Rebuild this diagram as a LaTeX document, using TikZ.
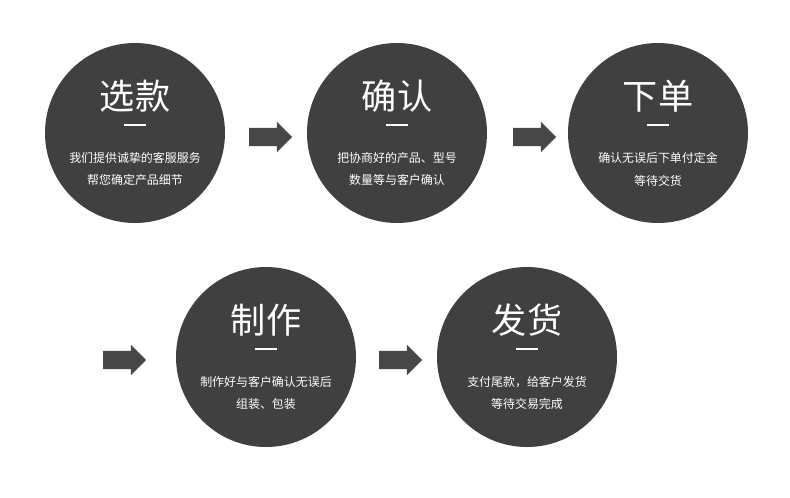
\documentclass[tikz,border=0pt]{standalone}
\usepackage{fontspec}
\newfontfamily\cjk{Noto Sans CJK SC}
\usetikzlibrary{shapes.arrows, positioning}
\definecolor{stepgray}{HTML}{404040}
\definecolor{arrowgray}{HTML}{474747}
\tikzset{
    stage/.style={circle, fill=stepgray, minimum size=180*0.03cm, inner sep=0pt},
    title/.style={text=white, font=\cjk\fontsize{30}{32}\selectfont},
    body/.style={text=white, font=\cjk\fontsize{10.2}{19.5}\selectfont, align=center},
    flow/.style={single arrow, fill=arrowgray, minimum height=43*0.03cm,
        single arrow head extend=6*0.03cm, inner sep=0pt}
}
\begin{document}
\begin{tikzpicture}[x=0.03cm, y=-0.03cm]
    \useasboundingbox[fill=white] (0,0) rectangle (790,497);
    % Steps: name/x/y/title/text
    \foreach \n/\x/\y/\t/\b in {
        s1/135/133/选款/{我们提供诚挚的客服服务\\帮您确定产品细节},
        s2/397/133/确认/{把协商好的产品、型号\\数量等与客户确认},
        s3/658/133/下单/{确认无误后下单付定金\\等待交货},
        s4/266/357/制作/{制作好与客户确认无误后\\组装、包装},
        s5/527/357/发货/{支付尾款，给客户发货\\等待交易完成}} {
        \node[stage] (\n) at (\x,\y) {};
        \node[title] (\n-t) at (\x,\y-37) {\t};
        \draw[white, line width=1pt] (\x-11,\y-8) -- (\x+11,\y-8);
        \node[body] (\n-b) at (\x,\y+36) {\b};
    }
    % Arrows
    \node[flow] (a1) at (266,137) {\rule{0pt}{0.54cm}};
    \node[flow] (a2) at (530,137) {\rule{0pt}{0.54cm}};
    \node[flow] (a3) at (120,360) {\rule{0pt}{0.54cm}};
    \node[flow] (a4) at (396,360) {\rule{0pt}{0.54cm}};
\end{tikzpicture}
\end{document}
